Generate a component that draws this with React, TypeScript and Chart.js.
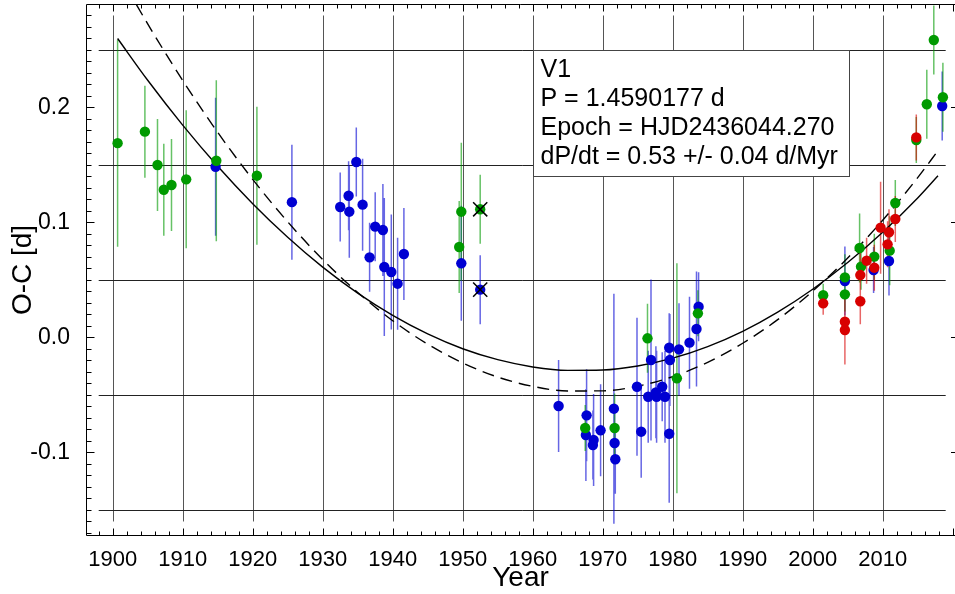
import React, { useEffect, useRef } from 'react';
import { Chart, registerables } from 'chart.js';

Chart.register(...registerables);

const FONT = '"Liberation Sans", Arial, Helvetica, sans-serif';

// ---- data (year, O-C [d], error [d]) ----
const greenYears = [1900.7, 1904.6, 1906.4, 1907.3, 1908.4, 1910.5, 1914.8, 1920.6, 1949.8, 1949.5, 1952.5, 1967.5, 1971.7, 1976.4, 1980.6, 1983.6, 2001.5, 2004.6, 2004.6, 2006.7, 2006.9, 2008.8, 2011.0, 2011.8, 2014.8, 2016.3, 2017.3, 2018.6];
const greenOC = [0.169, 0.179, 0.150, 0.1285, 0.1326, 0.1375, 0.1537, 0.1407, 0.1094, 0.0787, 0.1115, -0.0787, -0.0787, -0.0007, -0.0355, 0.021, 0.0367, 0.0523, 0.0375, 0.0778, 0.0616, 0.0703, 0.0755, 0.117, 0.1717, 0.2028, 0.2587, 0.2089];
const greenErr = [0.090, 0.040, 0.040, 0.040, 0.040, 0.060, 0.070, 0.060, 0.060, 0.040, 0.030, 0.020, 0.030, 0.030, 0.100, 0.020, 0.010, 0.020, 0.015, 0.030, 0.020, 0.020, 0.030, 0.020, 0.020, 0.030, 0.030, 0.030];

const blueYears = [1914.7, 1925.6, 1932.5, 1933.7, 1933.8, 1934.8, 1935.7, 1936.7, 1937.5, 1938.6, 1938.8, 1939.8, 1940.7, 1941.6, 1949.8, 1952.5, 1963.7, 1967.7, 1967.6, 1968.7, 1968.6, 1969.7, 1971.6, 1971.7, 1971.8, 1974.9, 1975.5, 1976.9, 1976.5, 1977.7, 1977.6, 1978.5, 1978.9, 1979.5, 1979.6, 1979.5, 1980.9, 1982.4, 1983.4, 1983.7, 2004.6, 2008.7, 2010.9, 2018.5];
const blueOC = [0.1485, 0.1177, 0.1135, 0.1233, 0.1094, 0.1526, 0.1155, 0.0697, 0.0964, 0.0935, 0.0613, 0.057, 0.0468, 0.0726, 0.0645, 0.0416, -0.0596, -0.0677, -0.0848, -0.0891, -0.0935, -0.0807, -0.0619, -0.0917, -0.1059, -0.0428, -0.0819, -0.0196, -0.0515, -0.0515, -0.0477, -0.0428, -0.0515, -0.0089, -0.0196, -0.0837, -0.0103, -0.0045, 0.0074, 0.0268, 0.0491, 0.0587, 0.0665, 0.2013];
const blueErr = [0.060, 0.050, 0.030, 0.030, 0.040, 0.030, 0.040, 0.030, 0.030, 0.040, 0.060, 0.050, 0.040, 0.040, 0.050, 0.030, 0.040, 0.040, 0.040, 0.040, 0.030, 0.040, 0.100, 0.030, 0.030, 0.060, 0.040, 0.070, 0.040, 0.040, 0.040, 0.030, 0.040, 0.030, 0.040, 0.060, 0.040, 0.040, 0.050, 0.030, 0.030, 0.020, 0.030, 0.030];

const redYears = [2001.5, 2004.6, 2004.6, 2006.8, 2006.8, 2007.7, 2008.8, 2009.7, 2010.9, 2010.7, 2011.8, 2014.8];
const redOC = [0.0297, 0.0137, 0.0065, 0.0543, 0.0315, 0.0668, 0.0607, 0.0955, 0.0915, 0.081, 0.103, 0.174];
const redErr = [0.010, 0.020, 0.030, 0.020, 0.020, 0.020, 0.020, 0.040, 0.020, 0.020, 0.020, 0.020];

const rejectedYears = [1952.5, 1952.5];
const rejectedOC = [0.1115, 0.0416];

// fitted curves
const fitYears = [1900.7, 1905, 1910, 1915, 1920, 1925, 1930, 1935, 1940, 1945, 1950, 1955, 1960, 1965, 1970, 1975, 1980, 1985, 1990, 1995, 2000, 2005, 2010, 2015, 2017.9];
const fitSolid = [0.260, 0.2237, 0.1847, 0.1489, 0.1164, 0.0872, 0.0612, 0.0386, 0.0192, 0.0031, -0.0098, -0.0193, -0.0256, -0.0286, -0.0283, -0.0248, -0.018, -0.0079, 0.0054, 0.0221, 0.042, 0.0652, 0.0916, 0.1214, 0.1407];
const fitDashed = [0.318, 0.2727, 0.2235, 0.1784, 0.1375, 0.1006, 0.0678, 0.0392, 0.0146, -0.0058, -0.0221, -0.0344, -0.0425, -0.0465, -0.0464, -0.0423, -0.034, -0.0216, -0.005, 0.0155, 0.0403, 0.0691, 0.102, 0.139, 0.1625];

// ticks / grid
const xTickLabels = [1900, 1910, 1920, 1930, 1940, 1950, 1960, 1970, 1980, 1990, 2000, 2010];
const yTickLabels = [-0.1, 0.0, 0.1, 0.2];
const yGridValues = [-0.15, -0.05, 0.05, 0.15, 0.25];

const infoLines = ['V1', 'P = 1.4590177 d', 'Epoch = HJD2436044.270', 'dP/dt = 0.53 +/- 0.04 d/Myr'];

const X_MIN = 1896.186;
const X_MAX = 2020.329;
const Y_MIN = -0.17174;
const Y_MAX = 0.28913;

const GREEN = '#009a00';
const BLUE = '#0000d2';
const RED = '#d80000';

const pts = (xs: number[], ys: number[]) => xs.map((x, i) => ({ x, y: ys[i] }));

const groups = [
  { years: blueYears, oc: blueOC, err: blueErr, color: 'rgba(0,0,210,0.6)' },
  { years: greenYears, oc: greenOC, err: greenErr, color: 'rgba(0,154,0,0.6)' },
  { years: redYears, oc: redOC, err: redErr, color: 'rgba(216,0,0,0.6)' },
];

const framePlugin = {
  id: 'ocFrame',
  beforeDatasetsDraw(chart: any) {
    const { ctx, chartArea, scales } = chart;
    const x = scales.x;
    const y = scales.y;
    ctx.save();
    // grid
    const gx0 = x.getPixelForValue(1898);
    const gx1 = x.getPixelForValue(2019);
    const gy0 = y.getPixelForValue(0.28);
    const gy1 = y.getPixelForValue(-0.16);
    ctx.lineWidth = 1;
    ctx.strokeStyle = '#555';
    ctx.beginPath();
    xTickLabels.forEach((v) => {
      const px = Math.round(x.getPixelForValue(v)) + 0.5;
      ctx.moveTo(px, gy0);
      ctx.lineTo(px, gy1);
    });
    ctx.stroke();
    ctx.strokeStyle = '#222';
    ctx.beginPath();
    yGridValues.forEach((v) => {
      const py = Math.round(y.getPixelForValue(v)) + 0.5;
      ctx.moveTo(gx0, py);
      ctx.lineTo(gx1, py);
    });
    ctx.stroke();

    // info box
    const bx0 = Math.round(x.getPixelForValue(1960.0)) + 0.5;
    const bx1 = Math.round(x.getPixelForValue(2005.2)) + 0.5;
    const by0 = Math.round(y.getPixelForValue(0.25)) + 0.5;
    const by1 = Math.round(y.getPixelForValue(0.1404)) + 0.5;
    ctx.fillStyle = '#fff';
    ctx.fillRect(bx0, by0, bx1 - bx0, by1 - by0);
    ctx.strokeStyle = '#444';
    ctx.strokeRect(bx0, by0, bx1 - bx0, by1 - by0);
    ctx.fillStyle = '#000';
    ctx.font = `25px ${FONT}`;
    ctx.textAlign = 'left';
    ctx.textBaseline = 'alphabetic';
    infoLines.forEach((t, i) => {
      ctx.fillText(t, bx0 + 7, by0 + 26.5 + i * 28.9);
    });

    // error bars
    ctx.beginPath();
    ctx.rect(chartArea.left, chartArea.top, chartArea.right - chartArea.left, chartArea.bottom - chartArea.top);
    ctx.clip();
    ctx.lineWidth = 1.5;
    groups.forEach((g) => {
      ctx.strokeStyle = g.color;
      ctx.beginPath();
      g.years.forEach((yr, i) => {
        const px = x.getPixelForValue(yr);
        ctx.moveTo(px, y.getPixelForValue(g.oc[i] + g.err[i]));
        ctx.lineTo(px, y.getPixelForValue(g.oc[i] - g.err[i]));
      });
      ctx.stroke();
    });
    ctx.restore();
  },
  afterDraw(chart: any) {
    const { ctx, chartArea, scales } = chart;
    const x = scales.x;
    const y = scales.y;
    const L = Math.round(chartArea.left) + 0.5;
    const R = chartArea.right;
    const T = Math.round(chartArea.top) - 0.5;
    const B = Math.round(chartArea.bottom) + 0.5;
    ctx.save();
    ctx.strokeStyle = '#000';
    ctx.lineWidth = 1;
    ctx.beginPath();
    ctx.moveTo(L, T);
    ctx.lineTo(L, B);
    ctx.lineTo(R, B);
    ctx.moveTo(L, T);
    ctx.lineTo(R, T);
    // x ticks (bottom & top)
    for (let v = 1898; v <= 2020; v += 2) {
      const px = Math.round(x.getPixelForValue(v)) + 0.5;
      const len = v % 10 === 0 ? 7 : 4;
      ctx.moveTo(px, B);
      ctx.lineTo(px, B - len);
      ctx.moveTo(px, T);
      ctx.lineTo(px, T + len);
    }
    // y ticks (left & right)
    for (let k = -17; k <= 28; k++) {
      const v = k / 100;
      const py = Math.round(y.getPixelForValue(v)) + 0.5;
      const major = k % 10 === 0;
      const len = major ? 8 : 5;
      ctx.moveTo(L, py);
      ctx.lineTo(L + len, py);
      if (major) {
        ctx.moveTo(R, py);
        ctx.lineTo(R - 4, py);
      }
    }
    ctx.stroke();
    ctx.restore();
  },
};

export default function App() {
  const ref = useRef<HTMLCanvasElement | null>(null);
  useEffect(() => {
    if (!ref.current) return;
    const chart = new Chart(ref.current, {
      type: 'scatter',
      data: {
        datasets: [
          {
            label: 'rejected',
            data: pts(rejectedYears, rejectedOC),
            pointStyle: 'crossRot',
            pointRadius: 10,
            borderColor: '#000',
            backgroundColor: 'rgba(0,0,0,0)',
            borderWidth: 1.5,
            order: 0,
          },
          {
            label: 'red',
            data: pts(redYears, redOC),
            pointRadius: 5.2,
            backgroundColor: RED,
            borderWidth: 0,
            order: 1,
          },
          {
            label: 'green',
            data: pts(greenYears, greenOC),
            pointRadius: 5.2,
            backgroundColor: GREEN,
            borderWidth: 0,
            order: 2,
          },
          {
            label: 'blue',
            data: pts(blueYears, blueOC),
            pointRadius: 5.2,
            backgroundColor: BLUE,
            borderWidth: 0,
            order: 3,
          },
          {
            label: 'fit',
            data: pts(fitYears, fitSolid),
            showLine: true,
            pointRadius: 0,
            borderColor: '#000',
            borderWidth: 1.4,
            cubicInterpolationMode: 'monotone',
            order: 4,
          },
          {
            label: 'fit2',
            data: pts(fitYears, fitDashed),
            showLine: true,
            pointRadius: 0,
            borderColor: '#000',
            borderWidth: 1.4,
            borderDash: [12, 7],
            cubicInterpolationMode: 'monotone',
            order: 5,
          },
        ] as any,
      },
      options: {
        animation: false,
        responsive: false,
        events: [],
        layout: { autoPadding: false, padding: { top: 5, left: 0, right: 0, bottom: 0 } },
        plugins: { legend: { display: false }, tooltip: { enabled: false } },
        scales: {
          x: {
            type: 'linear',
            min: X_MIN,
            max: X_MAX,
            grid: { display: false },
            border: { display: false },
            afterBuildTicks: (s: any) => {
              s.ticks = xTickLabels.map((v) => ({ value: v }));
            },
            afterFit: (s: any) => {
              s.height = 59;
              s.paddingLeft = 0;
              s.paddingRight = 0;
            },
            ticks: {
              autoSkip: false,
              maxRotation: 0,
              padding: 4,
              color: '#000',
              font: { family: FONT, size: 22 },
              callback: (v: any) => String(v),
            },
            title: {
              display: true,
              text: 'Year',
              color: '#000',
              padding: { top: 0, bottom: -1 },
              font: { family: FONT, size: 28 },
            },
          },
          y: {
            type: 'linear',
            min: Y_MIN,
            max: Y_MAX,
            grid: { display: false },
            border: { display: false },
            afterBuildTicks: (s: any) => {
              s.ticks = yTickLabels.map((v) => ({ value: v }));
            },
            afterFit: (s: any) => {
              s.width = 86;
              s.paddingTop = 0;
              s.paddingBottom = 0;
            },
            ticks: {
              autoSkip: false,
              padding: 8,
              color: '#000',
              font: { family: FONT, size: 23 },
              callback: (v: any) => Number(v).toFixed(1),
            },
            title: {
              display: true,
              text: 'O-C [d]',
              color: '#000',
              padding: { top: 6, bottom: 0 },
              font: { family: FONT, size: 28 },
            },
          },
        },
      } as any,
      plugins: [framePlugin],
    });
    return () => chart.destroy();
  }, []);
  return (
    <div style={{ position: 'fixed', left: 0, top: 0, width: 955, height: 594, background: '#fff' }}>
      <canvas ref={ref} width={955} height={594} style={{ display: 'block' }} />
    </div>
  );
}
